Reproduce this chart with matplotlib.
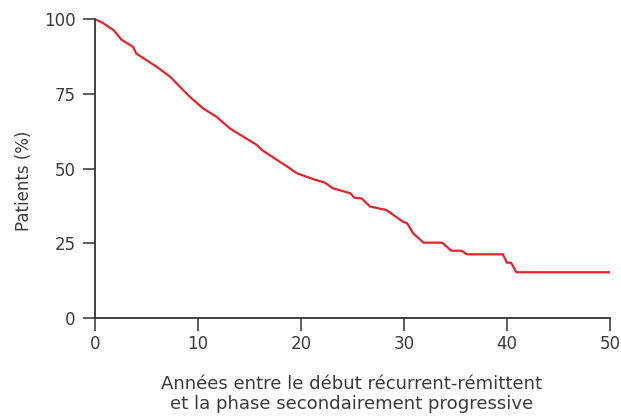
import matplotlib
matplotlib.use("Agg")
import matplotlib.pyplot as plt

years = [0, 0.8, 1.8, 2.6, 3.7, 4.0, 6.0, 7.3, 9.2, 10.5, 11.8, 13.1, 15.7, 16.2,
         18.9, 19.6, 21.4, 22.3, 23.1, 24.8, 25.2, 25.9, 26.7, 28.3, 29.9, 30.3,
         30.9, 31.9, 33.7, 34.6, 35.6, 36.1, 39.6, 40.0, 40.4, 40.9, 50.0]
patients = [100, 98.6, 96.3, 93, 90.7, 88.5, 84, 80.7, 74, 70.1, 67.3, 63.4, 57.9, 56.2,
            50.1, 48.4, 46.2, 45.3, 43.4, 41.7, 40.2, 40.0, 37.3, 36.1, 32.2, 31.7,
            28.3, 25.2, 25.2, 22.5, 22.5, 21.3, 21.3, 18.5, 18.5, 15.3, 15.3]
xticks = [0, 10, 20, 30, 40, 50]
yticks = [0, 25, 50, 75, 100]

plt.rcParams['font.family'] = ['DejaVu Sans']
txt = '#3a3a3a'
fig = plt.figure(figsize=(6.21, 4.17), dpi=100)
ax = fig.add_axes([95/621, 1-318/417, (610-95)/621, (318-19)/417])
ax.plot(years, patients, color='#e0242c', lw=1.6, solid_joinstyle='round')
ax.set_xlim(0, 50)
ax.set_ylim(0, 100)
ax.set_xticks(xticks)
ax.set_yticks(yticks)
for s in ['top', 'right']:
    ax.spines[s].set_visible(False)
for s in ['left', 'bottom']:
    ax.spines[s].set_color('#333333')
    ax.spines[s].set_linewidth(1.3)
ax.tick_params(direction='out', length=9, width=1.1, color='#333333',
               labelsize=12, labelcolor=txt)
ax.tick_params(axis='x', pad=3)
ax.tick_params(axis='y', pad=5)
ax.set_ylabel('Patients (%)', fontsize=12, color=txt)
ax.yaxis.set_label_coords(-0.12, 0.46)
fig.text(352/621, 1-394/417,
         'Années entre le début récurrent-rémittent\net la phase secondairement progressive',
         fontsize=13.1, color=txt, ha='center', va='center', linespacing=1.12)
fig.savefig('out.png', dpi=100)
